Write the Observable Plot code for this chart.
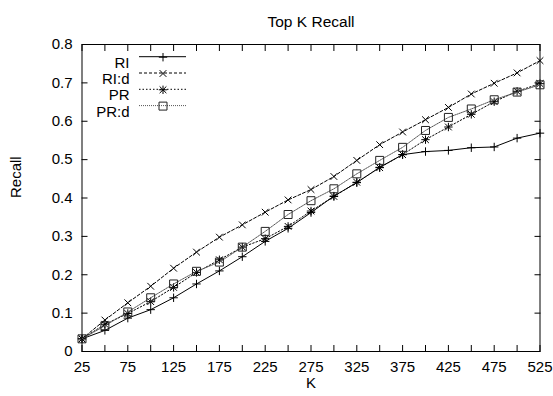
<!DOCTYPE html>
<html>
<head>
<meta charset="utf-8">
<script src="https://cdn.jsdelivr.net/npm/d3@7"></script>
<script src="https://cdn.jsdelivr.net/npm/@observablehq/plot@0.6"></script>
<style>
  html, body { margin: 0; padding: 0; background: #fff; }
</style>
</head>
<body>
<div id="chart"></div>
<script>
// ---- data ----
const title = "Top K Recall";
const xLabel = "K";
const yLabel = "Recall";
const K = [25, 50, 75, 100, 125, 150, 175, 200, 225, 250, 275, 300, 325, 350, 375, 400, 425, 450, 475, 500, 525];
const seriesNames = ["RI", "RI:d", "PR", "PR:d"];
const RI   = [0.033, 0.055, 0.087, 0.109, 0.140, 0.176, 0.210, 0.247, 0.287, 0.321, 0.362, 0.405, 0.440, 0.480, 0.513, 0.521, 0.524, 0.531, 0.533, 0.556, 0.569];
const RId  = [0.033, 0.082, 0.127, 0.170, 0.217, 0.259, 0.298, 0.330, 0.363, 0.395, 0.422, 0.456, 0.498, 0.539, 0.572, 0.604, 0.636, 0.671, 0.699, 0.726, 0.758];
const PR   = [0.033, 0.071, 0.099, 0.130, 0.167, 0.206, 0.239, 0.272, 0.294, 0.326, 0.366, 0.404, 0.441, 0.479, 0.513, 0.552, 0.585, 0.618, 0.651, 0.678, 0.698];
const PRd  = [0.033, 0.067, 0.103, 0.140, 0.176, 0.209, 0.233, 0.272, 0.313, 0.357, 0.393, 0.424, 0.463, 0.498, 0.532, 0.576, 0.610, 0.632, 0.656, 0.676, 0.695];
const seriesValues = [RI, RId, PR, PRd];
const xTicks = d3.range(25, 526, 25);
const xTickLabels = d3.range(25, 526, 50);
const yTicks = d3.range(0, 0.81, 0.1).map(v => +v.toFixed(1));

// ---- styles ----
function sym(kind) {
  return {
    draw(ctx, size) {
      const r = Math.sqrt(size / Math.PI);
      if (kind === "plus" || kind === "star") {
        ctx.moveTo(-r, 0); ctx.lineTo(r, 0);
        ctx.moveTo(0, -r); ctx.lineTo(0, r);
      }
      if (kind === "times" || kind === "star") {
        const q = r * 0.8;
        ctx.moveTo(-q, -q); ctx.lineTo(q, q);
        ctx.moveTo(-q, q); ctx.lineTo(q, -q);
      }
      if (kind === "square") {
        const q = r * 0.95;
        ctx.moveTo(-q, -q); ctx.lineTo(q, -q); ctx.lineTo(q, q); ctx.lineTo(-q, q); ctx.closePath();
      }
    }
  };
}
const styles = [
  {symbol: sym("plus"),   dash: null,  color: "#000", mcolor: "#000"},
  {symbol: sym("times"),  dash: "3,2", color: "#000", mcolor: "#000"},
  {symbol: sym("star"),   dash: "1.5,2", color: "#000", mcolor: "#000"},
  {symbol: sym("square"), dash: "1,1", color: "#555", mcolor: "#222"}
];

const data = seriesNames.flatMap((s, i) => K.map((k, j) => ({series: s, K: k, v: seriesValues[i][j]})));

const font = "'Liberation Sans', Arial, Helvetica, sans-serif";
const fs = 15;
const marks = [
  Plot.frame({stroke: "#000", strokeWidth: 1}),
  // inward ticks on all four sides
  Plot.axisX({anchor: "bottom", ticks: xTicks, tickSize: -6, tickFormat: () => "", label: null}),
  Plot.axisX({anchor: "top", ticks: xTicks, tickSize: -6, tickFormat: () => "", label: null}),
  Plot.axisY({anchor: "left", ticks: yTicks, tickSize: -6, tickFormat: () => "", label: null}),
  Plot.axisY({anchor: "right", ticks: yTicks, tickSize: -6, tickFormat: () => "", label: null}),
  // tick labels
  Plot.axisX({anchor: "bottom", ticks: xTickLabels, tickSize: 0, tickPadding: 10, label: null, tickFormat: d => String(d)}),
  Plot.axisY({anchor: "left", ticks: yTicks, tickSize: 0, tickPadding: 9.5, label: null, tickFormat: d => d === 0 ? "0" : d.toFixed(1)}),
  // titles
  Plot.text([title], {frameAnchor: "top", dy: -29, fontSize: 15.5}),
  Plot.text([xLabel], {frameAnchor: "bottom", dy: 36, fontSize: fs}),
  Plot.text([yLabel], {frameAnchor: "left", dx: -66, rotate: -90, fontSize: fs})
];

seriesNames.forEach((s, i) => {
  const st = styles[i];
  const sub = data.filter(d => d.series === s);
  marks.push(Plot.line(sub, {x: "K", y: "v", stroke: st.color, strokeWidth: 1, strokeDasharray: st.dash}));
  marks.push(Plot.dot(sub, {x: "K", y: "v", symbol: st.symbol, r: 4.2, stroke: st.mcolor, fill: "none", strokeWidth: 1}));
  // legend
  const dy = 12.7 + 16.3 * i;
  marks.push(Plot.text([s], {frameAnchor: "top-left", dx: 47.5, dy, textAnchor: "end", fontSize: fs}));
  marks.push((index, scales, values, dims) => {
    const x0 = dims.marginLeft + 57.5, x1 = dims.marginLeft + 104.5, y = dims.marginTop + dy;
    const g = d3.create("svg:g");
    g.append("line").attr("x1", x0).attr("x2", x1).attr("y1", y).attr("y2", y)
      .attr("stroke", st.color).attr("stroke-width", 1).attr("stroke-dasharray", st.dash);
    return g.node();
  });
  marks.push(Plot.dot([s], {frameAnchor: "top-left", dx: 81, dy, symbol: st.symbol, r: 4.2, stroke: st.mcolor, fill: "none", strokeWidth: 1}));
});

const chart = Plot.plot({
  width: 553,
  height: 396,
  marginLeft: 81.5,
  marginRight: 13.5,
  marginTop: 44,
  marginBottom: 45,
  x: {domain: [25, 525], label: null},
  y: {domain: [0, 0.8], label: null},
  style: {fontFamily: font, fontSize: fs + "px", color: "#000", background: "#fff", overflow: "visible"},
  marks
});
document.getElementById("chart").appendChild(chart);
</script>
</body>
</html>
